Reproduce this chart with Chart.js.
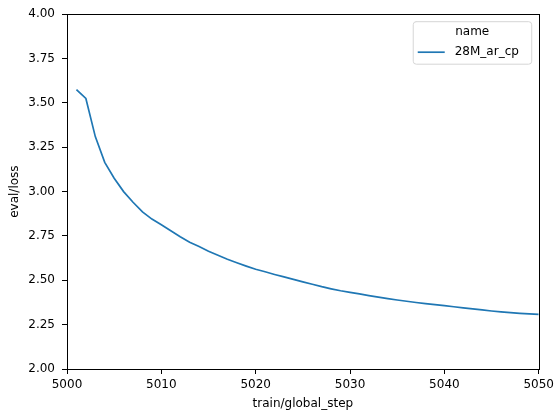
<!DOCTYPE html>
<html>
<head>
<meta charset="utf-8">
<script src="https://cdn.jsdelivr.net/npm/chart.js@4.4.1/dist/chart.umd.min.js"></script>
<style>
  body { margin: 0; background: #fff; }
  canvas { display: block; }
</style>
</head>
<body>
<canvas id="myChart" width="558" height="414"></canvas>
<script>
// eval loss per training step
var steps = [5001, 5002, 5003, 5004, 5005, 5006, 5007, 5008, 5009, 5010,
             5011, 5012, 5013, 5014, 5015, 5016, 5017, 5018, 5019, 5020,
             5021, 5022, 5023, 5024, 5025, 5026, 5027, 5028, 5029, 5030,
             5031, 5032, 5033, 5034, 5035, 5036, 5037, 5038, 5039, 5040,
             5041, 5042, 5043, 5044, 5045, 5046, 5047, 5048, 5049, 5050];
var evalLoss = [3.575, 3.525, 3.31, 3.165, 3.075, 3.0, 2.94, 2.886, 2.845, 2.813,
                2.779, 2.745, 2.714, 2.69, 2.664, 2.641, 2.619, 2.599, 2.58, 2.562,
                2.548, 2.533, 2.519, 2.505, 2.491, 2.478, 2.464, 2.452, 2.441, 2.432,
                2.423, 2.414, 2.405, 2.397, 2.389, 2.382, 2.375, 2.369, 2.363, 2.357,
                2.351, 2.345, 2.339, 2.333, 2.327, 2.322, 2.318, 2.314, 2.311, 2.308];
var seriesName = "28M_ar_cp";
var legendTitle = "name";
var xTicks = [5000, 5010, 5020, 5030, 5040, 5050];
var yTicks = [2.00, 2.25, 2.50, 2.75, 3.00, 3.25, 3.50, 3.75, 4.00];

var FONT = "DejaVu Sans";
var LINE_COLOR = "#1f77b4";

// frame around the plot + matplotlib style legend box
var framePlugin = {
  id: "frame",
  afterDraw: function (chart) {
    var ctx = chart.ctx;
    var a = chart.chartArea;
    ctx.save();
    ctx.strokeStyle = "#000";
    ctx.lineWidth = 1;
    ctx.strokeRect(Math.round(a.left) + 0.5, Math.round(a.top) + 0.5,
      Math.round(a.right - a.left), Math.round(a.bottom - a.top));

    // legend
    var bx = a.right - 126, by = a.top + 7, bw = 119, bh = 43, r = 3;
    ctx.fillStyle = "rgba(255,255,255,0.8)";
    ctx.strokeStyle = "#d6d6d6";
    ctx.beginPath();
    ctx.moveTo(bx + r, by + 0.5);
    ctx.arcTo(bx + bw, by + 0.5, bx + bw, by + bh, r);
    ctx.arcTo(bx + bw, by + bh, bx, by + bh, r);
    ctx.arcTo(bx + 0.5, by + bh, bx + 0.5, by, r);
    ctx.arcTo(bx + 0.5, by + 0.5, bx + bw, by + 0.5, r);
    ctx.closePath();
    ctx.fill();
    ctx.stroke();

    ctx.fillStyle = "#000";
    ctx.font = "12px '" + FONT + "'";
    ctx.textAlign = "center";
    ctx.textBaseline = "middle";
    ctx.fillText(legendTitle, bx + bw / 2, by + 11);

    ctx.strokeStyle = LINE_COLOR;
    ctx.lineWidth = 1.7;
    ctx.beginPath();
    ctx.moveTo(bx + 5, by + 31);
    ctx.lineTo(bx + 32, by + 31);
    ctx.stroke();

    ctx.textAlign = "left";
    ctx.fillText(chart.data.datasets[0].label, bx + 42, by + 31);
    ctx.restore();
  }
};

var context = document.getElementById("myChart").getContext("2d");
new Chart(context, {
  type: "line",
  data: {
    datasets: [{
      label: seriesName,
      data: steps.map(function (s, i) { return { x: s, y: evalLoss[i] }; }),
      borderColor: LINE_COLOR,
      borderWidth: 1.7,
      pointRadius: 0,
      tension: 0,
      fill: false
    }]
  },
  options: {
    responsive: false,
    animation: false,
    layout: { padding: { top: 14, right: 18, left: 0, bottom: 0 } },
    plugins: {
      legend: { display: false },
      tooltip: { enabled: false }
    },
    scales: {
      x: {
        type: "linear",
        min: xTicks[0],
        max: xTicks[xTicks.length - 1],
        afterBuildTicks: function (scale) {
          scale.ticks = xTicks.map(function (v) { return { value: v }; });
        },
        afterFit: function (scale) { scale.height = 45; },
        border: { display: true, color: "#000", width: 1 },
        grid: { drawOnChartArea: false, drawTicks: true, tickLength: 5, tickColor: "#000" },
        ticks: {
          color: "#000", padding: 4, maxRotation: 0,
          font: { family: FONT, size: 12 },
          callback: function (v) { return String(v); }
        },
        title: {
          display: true, text: "train/global_step", color: "#000",
          font: { family: FONT, size: 12 },
          padding: { top: 0, bottom: 3 }
        }
      },
      y: {
        type: "linear",
        min: yTicks[0],
        max: yTicks[yTicks.length - 1],
        afterBuildTicks: function (scale) {
          scale.ticks = yTicks.map(function (v) { return { value: v }; });
        },
        afterFit: function (scale) { scale.width = 67; },
        border: { display: true, color: "#000", width: 1 },
        grid: { drawOnChartArea: false, drawTicks: true, tickLength: 5, tickColor: "#000" },
        ticks: {
          color: "#000", padding: 7,
          font: { family: FONT, size: 12 },
          callback: function (v) { return Number(v).toFixed(2); }
        },
        title: {
          display: true, text: "eval/loss", color: "#000",
          font: { family: FONT, size: 12 },
          padding: { top: 8, bottom: 8 }
        }
      }
    }
  },
  plugins: [framePlugin]
});
</script>
</body>
</html>
